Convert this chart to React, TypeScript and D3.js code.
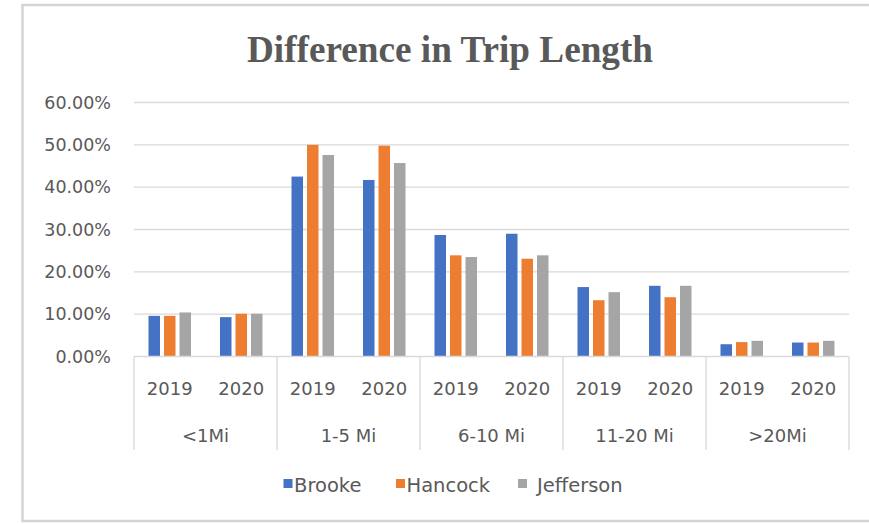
import React from "react";
import * as d3 from "d3";

const groups = ["<1Mi", "1-5 Mi", "6-10 Mi", "11-20 Mi", ">20Mi"];
const years = ["2019", "2020"];
const seriesNames = ["Brooke", "Hancock", "Jefferson"];
const seriesColors = ["#4472C4", "#ED7D31", "#A5A5A5"];
// values in percent, ordered by group then year
const brooke = [9.6, 9.3, 42.5, 41.7, 28.7, 29.0, 16.4, 16.7, 2.9, 3.3];
const hancock = [9.6, 10.1, 50.0, 49.8, 23.9, 23.1, 13.3, 14.0, 3.4, 3.3];
const jefferson = [10.4, 10.1, 47.6, 45.7, 23.5, 23.9, 15.2, 16.7, 3.7, 3.7];
const yTicks = [0, 10, 20, 30, 40, 50, 60];
const title = "Difference in Trip Length";

const W = 869;
const H = 524;
const plot = { left: 134, right: 849, top: 102.5, bottom: 356.5 };

export default function App() {
  const seriesValues = [brooke, hancock, jefferson];
  const cats = groups.flatMap((g) => years.map((y) => `${g}|${y}`));
  const x0 = d3.scaleBand<string>().domain(cats).range([plot.left, plot.right]).padding(0);
  const gx = d3.scaleBand<string>().domain(groups).range([plot.left, plot.right]).padding(0);
  const clusterW = 42.5;
  const x1 = d3
    .scaleBand<string>()
    .domain(seriesNames)
    .range([0, clusterW])
    .paddingInner(0.258)
    .paddingOuter(0);
  const y = d3.scaleLinear().domain([0, 60]).range([plot.bottom, plot.top]);
  const textColor = "#595959";
  const gridColor = "#d9d9d9";
  const sans = "'DejaVu Sans', sans-serif";

  const legendItems = [
    { name: "Brooke", sq: 283.5, tx: 294 },
    { name: "Hancock", sq: 396, tx: 406.5 },
    { name: "Jefferson", sq: 518, tx: 537 },
  ];

  return (
    <svg
      width={W}
      height={H}
      style={{ position: "absolute", left: 0, top: 0, background: "#fff" }}
    >
      <rect x={0} y={0} width={W} height={H} fill="#fff" />
      <rect
        x={22.5}
        y={5}
        width={W + 20}
        height={516}
        fill="#fff"
        stroke="#d4d4d4"
        strokeWidth={2.5}
      />
      <text
        x={450}
        y={62}
        textAnchor="middle"
        fontFamily="'Liberation Serif', 'Times New Roman', serif"
        fontWeight="bold"
        fontSize={38}
        fill={textColor}
        textLength={406}
        lengthAdjust="spacingAndGlyphs"
      >
        {title}
      </text>

      {yTicks.map((t) => (
        <g key={t}>
          {t > 0 && (
            <line
              x1={plot.left}
              x2={plot.right}
              y1={y(t)}
              y2={y(t)}
              stroke={gridColor}
              strokeWidth={1.3}
            />
          )}
          <text
            x={111}
            y={y(t)}
            dy="0.36em"
            textAnchor="end"
            fontFamily={sans}
            fontSize={17.5}
            fill={textColor}
          >
            {t.toFixed(2) + "%"}
          </text>
        </g>
      ))}

      {cats.map((c, i) =>
        seriesNames.map((s, k) => {
          const v = seriesValues[k][i];
          const cx = (x0(c) as number) + x0.bandwidth() / 2;
          return (
            <rect
              key={c + s}
              x={cx - clusterW / 2 + (x1(s) as number)}
              y={y(v)}
              width={x1.bandwidth()}
              height={y(0) - y(v)}
              fill={seriesColors[k]}
            />
          );
        })
      )}

      <line
        x1={plot.left}
        x2={plot.right}
        y1={y(0)}
        y2={y(0)}
        stroke={gridColor}
        strokeWidth={1.3}
      />
      {[...groups.map((g) => gx(g) as number), plot.right].map((xv, i) => (
        <line
          key={i}
          x1={xv}
          x2={xv}
          y1={y(0)}
          y2={450}
          stroke={gridColor}
          strokeWidth={1.3}
        />
      ))}

      {cats.map((c) => (
        <text
          key={c}
          x={(x0(c) as number) + x0.bandwidth() / 2}
          y={395}
          textAnchor="middle"
          fontFamily={sans}
          fontSize={18}
          fill={textColor}
        >
          {c.split("|")[1]}
        </text>
      ))}
      {groups.map((g) => (
        <text
          key={g}
          x={(gx(g) as number) + gx.bandwidth() / 2}
          y={442}
          textAnchor="middle"
          fontFamily={sans}
          fontSize={18}
          fill={textColor}
        >
          {g}
        </text>
      ))}

      {legendItems.map((it, k) => (
        <g key={it.name}>
          <rect x={it.sq} y={479} width={9} height={9} fill={seriesColors[k]} />
          <text
            x={it.tx}
            y={491.5}
            fontFamily={sans}
            fontSize={19.5}
            fill={textColor}
          >
            {it.name}
          </text>
        </g>
      ))}
    </svg>
  );
}
